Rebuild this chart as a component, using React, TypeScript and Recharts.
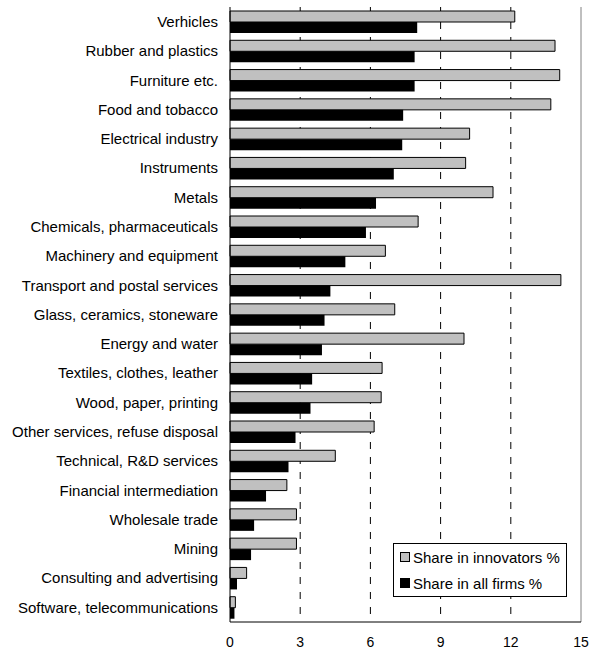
import { BarChart, Bar, XAxis, YAxis, CartesianGrid, ReferenceLine } from "recharts";

const categories = [
  "Verhicles",
  "Rubber and plastics",
  "Furniture etc.",
  "Food and tobacco",
  "Electrical industry",
  "Instruments",
  "Metals",
  "Chemicals, pharmaceuticals",
  "Machinery and equipment",
  "Transport and postal services",
  "Glass, ceramics, stoneware",
  "Energy and water",
  "Textiles, clothes, leather",
  "Wood, paper, printing",
  "Other services, refuse disposal",
  "Technical, R&D services",
  "Financial intermediation",
  "Wholesale trade",
  "Mining",
  "Consulting and advertising",
  "Software,  telecommunications",
];

const innovators = [
  12.17, 13.89, 14.09, 13.71, 10.24, 10.07, 11.24, 8.04, 6.64, 14.14, 7.04, 10.0, 6.5, 6.46, 6.16, 4.5,
  2.43, 2.84, 2.84, 0.71, 0.23,
];

const allFirms = [
  8.0, 7.89, 7.89, 7.4, 7.36, 7.0, 6.24, 5.81, 4.93, 4.29, 4.04, 3.93, 3.51, 3.44, 2.8, 2.5, 1.54, 1.03,
  0.9, 0.3, 0.19,
];

const xTicks = [0, 3, 6, 9, 12, 15];

const data = categories.map((name, i) => ({ name, innov: innovators[i], all: allFirms[i] }));

const FONT = "'Liberation Sans', Arial, sans-serif";

function LegendBox() {
  const row = (color: string, label: string) => (
    <div style={{ display: "flex", alignItems: "center", height: 26 }}>
      <span
        style={{
          display: "inline-block",
          width: 8,
          height: 8,
          background: color,
          border: "1px solid #000",
          marginRight: 3,
        }}
      />
      <span>{label}</span>
    </div>
  );
  return (
    <div
      style={{
        position: "absolute",
        left: 393,
        top: 543,
        width: 166,
        height: 52,
        border: "1px solid #000",
        background: "#fff",
        fontFamily: FONT,
        fontSize: 15,
        color: "#000",
        paddingLeft: 6,
        boxSizing: "content-box",
        whiteSpace: "nowrap",
      }}
    >
      {row("#C0C0C0", "Share in innovators %")}
      {row("#000", "Share in all firms %")}
    </div>
  );
}

export default function App() {
  return (
    <div style={{ position: "absolute", left: 0, top: 0, width: 589, height: 652, background: "#fff" }}>
      <BarChart
        width={589}
        height={652}
        data={data}
        layout="vertical"
        margin={{ top: 7, right: 8, bottom: 0, left: 0 }}
        barGap={0}
        style={{ fontFamily: FONT }}
      >
        <CartesianGrid horizontal={false} verticalValues={[3, 6, 9, 12]} stroke="#000" strokeDasharray="7 8" />
        <XAxis
          type="number"
          domain={[0, 15]}
          ticks={xTicks}
          interval={0}
          height={30}
          axisLine={{ stroke: "#000" }}
          tickLine={false}
          tickSize={0}
          tickMargin={15}
          tick={{ fontSize: 14, fill: "#000" }}
        />
        <XAxis
          xAxisId="top"
          orientation="top"
          type="number"
          domain={[0, 15]}
          height={0}
          tick={false}
          tickLine={false}
          axisLine={{ stroke: "#000" }}
        />
        <YAxis
          type="category"
          dataKey="name"
          width={230}
          interval={0}
          axisLine={{ stroke: "#000" }}
          tickLine={false}
          tickSize={0}
          tickMargin={12}
          tick={{ fontSize: 15, fill: "#000" }}
        />
        <ReferenceLine x={15} stroke="#808080" />
        <Bar dataKey="innov" name="Share in innovators %" fill="#C0C0C0" stroke="#000" strokeWidth={1} barSize={11} isAnimationActive={false} />
        <Bar dataKey="all" name="Share in all firms %" fill="#000" barSize={11} isAnimationActive={false} />
      </BarChart>
      <LegendBox />
    </div>
  );
}
